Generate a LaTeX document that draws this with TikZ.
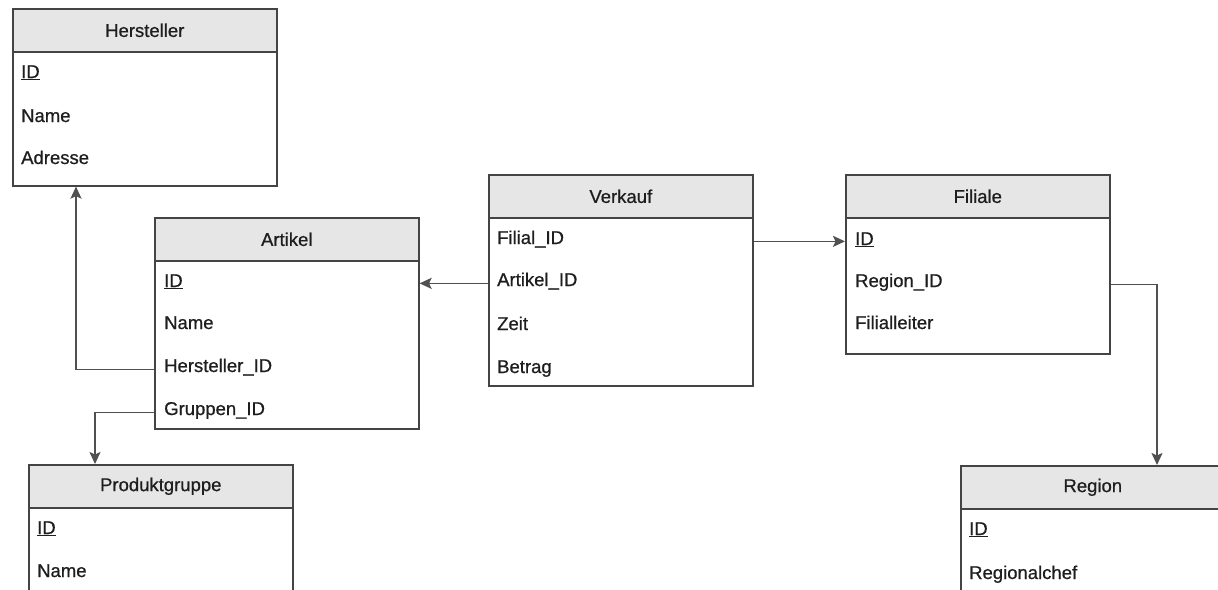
\documentclass[tikz,border=0pt]{standalone}
\usepackage{fontspec}
\setmainfont{Liberation Sans}[FakeBold=0.7]
\usetikzlibrary{arrows.meta}
\definecolor{boxc}{HTML}{444444}
\definecolor{hdrc}{HTML}{E6E6E6}
\definecolor{linec}{HTML}{505050}
\definecolor{txtc}{HTML}{1E1E1E}
\tikzset{
  tfont/.style={font=\fontsize{18.5}{22}\selectfont, text=txtc},
  hdr/.style={draw=boxc, fill=hdrc, line width=1.6pt, minimum width=264pt,
    minimum height=43pt, inner sep=0pt, anchor=north west, tfont},
  body/.style={draw=boxc, fill=white, line width=1.6pt, minimum width=264pt,
    inner sep=0pt, anchor=north west},
  row/.style={anchor=base west, inner sep=0pt, tfont},
  conn/.style={draw=linec, line width=1.7pt, -{Stealth[length=12pt,width=11pt,inset=2.5pt]}},
}
\begin{document}
\begin{tikzpicture}[x=1pt,y=-1pt]
\clip (0,0) rectangle (1218,589);
\fill[white] (0,0) rectangle (1218,589);

% Hersteller
\node[body, minimum height=134pt] (herB) at (12,51) {};
\node[hdr] (her) at (12,8) {Hersteller};
\node[row] (herID) at (21,78) {\underline{ID}};
\node[row] (herName) at (21,122) {Name};
\node[row] (herAdr) at (21,164) {Adresse};

% Artikel
\node[body, minimum height=168pt] (artB) at (154,260) {};
\node[hdr] (art) at (154,217) {Artikel};
\node[row] (artID) at (164,287) {\underline{ID}};
\node[row] (artName) at (164,329) {Name};
\node[row] (artHID) at (164,372) {Hersteller\_ID};
\node[row] (artGID) at (164,415) {Gruppen\_ID};

% Verkauf
\node[body, minimum height=169pt] (vkB) at (488,216) {};
\node[hdr] (vk) at (488,174) {Verkauf};
\node[row] (vkFID) at (497,244) {Filial\_ID};
\node[row] (vkAID) at (497,286) {Artikel\_ID};
\node[row] (vkZeit) at (497,330) {Zeit};
\node[row] (vkBetrag) at (497,373) {Betrag};

% Filiale
\node[body, minimum height=137pt] (filB) at (845,216) {};
\node[hdr] (fil) at (845,174) {Filiale};
\node[row] (filID) at (855,245) {\underline{ID}};
\node[row] (filRID) at (855,287) {Region\_ID};
\node[row] (filLeiter) at (855,329) {Filialleiter};

% Produktgruppe
\node[body, minimum height=130pt] (prdB) at (28,507) {};
\node[hdr] (prd) at (28,464) {Produktgruppe};
\node[row] (prdID) at (37,534) {\underline{ID}};
\node[row] (prdName) at (37,577) {Name};

% Region
\node[body, minimum height=130pt] (regB) at (960,507) {};
\node[hdr] (reg) at (960,465) {Region};
\node[row] (regID) at (969,535) {\underline{ID}};
\node[row] (regChef) at (969,579) {Regionalchef};

% Relationships
\coordinate (kH) at (76,0);
\coordinate (kG) at (95,0);
\coordinate (kR) at (1157,0);
\draw[conn] (artB.west |- artHID.mid) -| (kH |- herB.south);
\draw[conn] (artB.west |- artGID.mid) -| (kG |- prd.north);
\draw[conn] (vkB.west |- vkAID.mid) -- (artB.east |- vkAID.mid);
\draw[conn] (vkB.east |- vkFID.mid) -- (filB.west |- vkFID.mid);
\draw[conn] (filB.east |- filRID.mid) -| (kR |- reg.north);
\end{tikzpicture}
\end{document}
